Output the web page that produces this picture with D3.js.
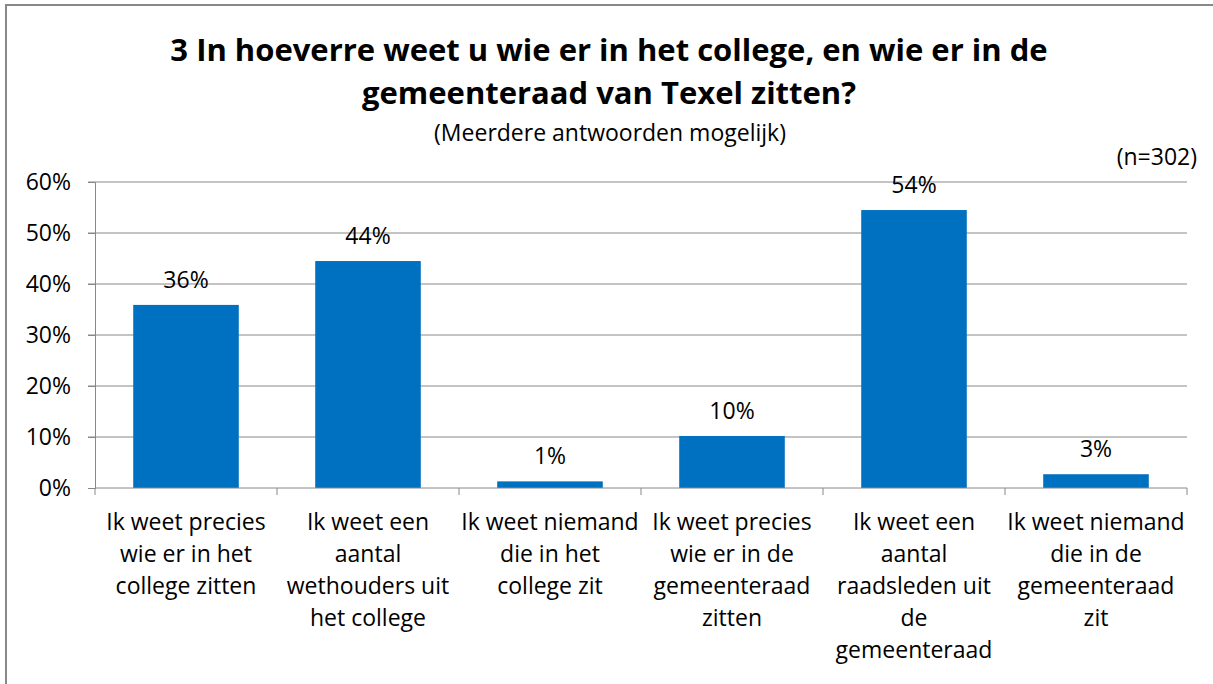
<!DOCTYPE html>
<html>
<head>
<meta charset="utf-8">
<script src="https://cdn.jsdelivr.net/npm/d3@7"></script>
<style>
  body { margin: 0; background: #fff; }
  text { font-family: "Open Sans", "Liberation Sans", sans-serif; fill: #000; }
</style>
</head>
<body>
<div id="chart"></div>
<script>
// data
var categories = [
  ["Ik weet precies", "wie er in het", "college zitten"],
  ["Ik weet een", "aantal", "wethouders uit", "het college"],
  ["Ik weet niemand", "die in het", "college zit"],
  ["Ik weet precies", "wie er in de", "gemeenteraad", "zitten"],
  ["Ik weet een", "aantal", "raadsleden uit", "de", "gemeenteraad"],
  ["Ik weet niemand", "die in de", "gemeenteraad", "zit"]
];
var values = [0.359, 0.445, 0.013, 0.102, 0.545, 0.027];
var labels = ["36%", "44%", "1%", "10%", "54%", "3%"];
var yTicks = [0, 0.1, 0.2, 0.3, 0.4, 0.5, 0.6];

var W = 1213, H = 684;
var svg = d3.select("#chart").append("svg")
    .attr("width", W)
    .attr("height", H);

// outer frame
svg.append("rect")
    .attr("x", 6).attr("y", 5)
    .attr("width", W).attr("height", H)
    .attr("fill", "none")
    .attr("stroke", "#888")
    .attr("stroke-width", 2);

var plotLeft = 95, plotRight = 1187, plotTop = 182, plotBottom = 488;
var fs = 23;

var x = d3.scaleBand()
    .domain(d3.range(categories.length))
    .range([plotLeft, plotRight])
    .paddingInner(0.42)
    .paddingOuter(0.21);

var y = d3.scaleLinear().domain([0, 0.6]).range([plotBottom, plotTop]);

// gridlines
svg.append("g").selectAll("line")
    .data(yTicks.slice(1))
    .enter().append("line")
    .attr("x1", plotLeft - 7).attr("x2", plotRight)
    .attr("y1", d => y(d)).attr("y2", d => y(d))
    .attr("stroke", "#888").attr("stroke-width", 1);

// y axis
var yAxis = svg.append("g")
    .attr("transform", "translate(" + plotLeft + ",0)")
    .call(d3.axisLeft(y).tickValues(yTicks).tickFormat(d3.format(".0%")).tickSize(7).tickPadding(17));
yAxis.select(".domain").attr("stroke", "#888");
yAxis.selectAll(".tick line").attr("stroke", "#888");
yAxis.selectAll(".tick text")
    .attr("font-size", fs)
    .attr("font-family", "Open Sans, Liberation Sans, sans-serif")
    .attr("fill", "#000");

// bars
svg.append("g").selectAll("rect")
    .data(values)
    .enter().append("rect")
    .attr("x", (d, i) => x(i))
    .attr("y", d => y(d))
    .attr("width", x.bandwidth())
    .attr("height", d => y(0) - y(d))
    .attr("fill", "#0070C0");

// x axis line and ticks at category boundaries
var step = x.step();
svg.append("line")
    .attr("x1", plotLeft).attr("x2", plotRight)
    .attr("y1", plotBottom).attr("y2", plotBottom)
    .attr("stroke", "#888");
svg.append("g").selectAll("line")
    .data(d3.range(categories.length + 1))
    .enter().append("line")
    .attr("x1", i => plotLeft + i * step).attr("x2", i => plotLeft + i * step)
    .attr("y1", plotBottom).attr("y2", plotBottom + 7)
    .attr("stroke", "#888");

// value labels
svg.append("g").selectAll("text")
    .data(values)
    .enter().append("text")
    .attr("x", (d, i) => x(i) + x.bandwidth() / 2)
    .attr("y", d => y(d) - 17)
    .attr("text-anchor", "middle")
    .attr("font-size", fs)
    .text((d, i) => labels[i]);

// category labels
var cat = svg.append("g").selectAll("text")
    .data(categories)
    .enter().append("text")
    .attr("text-anchor", "middle")
    .attr("font-size", fs)
    .attr("x", (d, i) => x(i) + x.bandwidth() / 2)
    .attr("y", 530);
cat.selectAll("tspan")
    .data(d => d)
    .enter().append("tspan")
    .attr("x", function() { return d3.select(this.parentNode).attr("x"); })
    .attr("dy", (d, i) => i === 0 ? 0 : 32)
    .text(d => d);

// titles
svg.append("text")
    .attr("x", 609).attr("y", 61)
    .attr("text-anchor", "middle")
    .attr("font-size", 31).attr("font-weight", "bold")
    .text("3 In hoeverre weet u wie er in het college, en wie er in de");
svg.append("text")
    .attr("x", 609).attr("y", 104)
    .attr("text-anchor", "middle")
    .attr("font-size", 31).attr("font-weight", "bold")
    .text("gemeenteraad van Texel zitten?");
svg.append("text")
    .attr("x", 610).attr("y", 141)
    .attr("text-anchor", "middle")
    .attr("font-size", fs)
    .text("(Meerdere antwoorden mogelijk)");
svg.append("text")
    .attr("x", 1197).attr("y", 165)
    .attr("text-anchor", "end")
    .attr("font-size", fs)
    .text("(n=302)");
</script>
</body>
</html>
